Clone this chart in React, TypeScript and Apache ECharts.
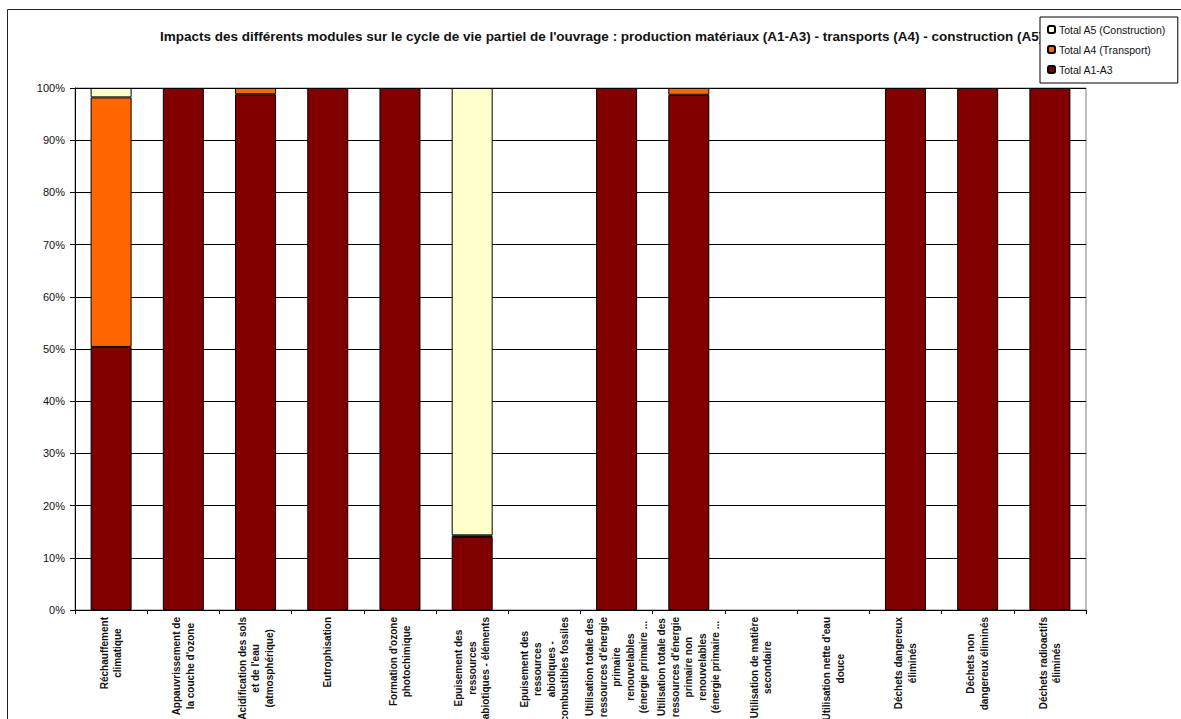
import React, { useEffect, useRef } from "react";
import * as echarts from "echarts";

const categories = [
  "Réchauffement\nclimatique",
  "Appauvrissement de\nla couche d'ozone",
  "Acidification des sols\net de l'eau\n(atmosphérique)",
  "Eutrophisation",
  "Formation d'ozone\nphotochimique",
  "Epuisement des\nressources\nabiotiques - éléments",
  "Epuisement des\nressources\nabiotiques -\ncombustibles fossiles",
  "Utilisation totale des\nressources d'énergie\nprimaire\nrenouvelables\n(énergie primaire ...",
  "Utilisation totale des\nressources d'énergie\nprimaire non\nrenouvelables\n(énergie primaire ...",
  "Utilisation de matière\nsecondaire",
  "Utilisation nette d'eau\ndouce",
  "Déchets dangereux\néliminés",
  "Déchets non\ndangereux éliminés",
  "Déchets radioactifs\néliminés",
];

const seriesNames = ["Total A1-A3", "Total A4 (Transport)", "Total A5 (Construction)"];
const legendOrder = ["Total A5 (Construction)", "Total A4 (Transport)", "Total A1-A3"];

const a1a3 = [50.4, 100, 98.8, 100, 100, 14.0, null, 100, 98.7, null, null, 100, 100, 100];
const a4 = [47.8, null, 1.2, null, null, 0.3, null, null, 1.3, null, null, null, null, null];
const a5 = [1.8, null, null, null, null, 85.7, null, null, null, null, null, null, null, null];

const colors = ["#800000", "#FF6600", "#FFFFCC"];

const yTicks = { min: 0, max: 100, interval: 10 };

const titleText =
  "Impacts des différents modules sur le cycle de vie partiel de l'ouvrage : production matériaux (A1-A3) - transports (A4) - construction (A5)";

const FONT = "'Liberation Sans', Arial, sans-serif";

export default function App() {
  const ref = useRef<HTMLDivElement>(null);

  useEffect(() => {
    if (!ref.current) return;
    const chart = echarts.init(ref.current, null, { renderer: "svg" });
    const dataSets = [a1a3, a4, a5];
    chart.setOption({
      animation: false,
      backgroundColor: "#ffffff",
      title: {
        text: titleText,
        left: 160,
        top: 29,
        padding: 0,
        textStyle: {
          fontFamily: FONT,
          fontSize: 13.5,
          fontWeight: "bold",
          color: "#111111",
        },
      },
      legend: {
        data: legendOrder,
        orient: "vertical",
        left: 1040,
        top: 17,
        width: 139,
        height: 66,
        padding: [7, 12, 8, 7],
        itemWidth: 7,
        itemHeight: 7,
        itemGap: 9,
        backgroundColor: "#ffffff",
        borderColor: "#000000",
        borderWidth: 1,
        z: 10,
        textStyle: {
          fontFamily: FONT,
          fontSize: 10.5,
          color: "#111111",
          padding: [0, 0, 0, -1],
        },
      },
      graphic: [
        {
          type: "rect",
          z: -1,
          shape: { x: 7.5, y: 9.5, width: 1300, height: 900 },
          style: { fill: "none", stroke: "#222222", lineWidth: 1 },
          silent: true,
        },
      ],
      grid: {
        left: 75,
        right: 95,
        top: 88,
        bottom: 109,
        show: true,
        borderColor: "#808080",
        borderWidth: 1,
        containLabel: false,
        outerBoundsMode: "none",
      },
      xAxis: {
        type: "category",
        data: categories,
        boundaryGap: true,
        axisLine: { show: true, lineStyle: { color: "#000000", width: 1 } },
        axisTick: { show: true, length: 4, lineStyle: { color: "#000000" } },
        axisLabel: {
          interval: 0,
          rotate: 90,
          margin: 7,
          fontFamily: FONT,
          fontSize: 10,
          fontWeight: "bold",
          color: "#111111",
          lineHeight: 13.5,
          formatter: (v: string) =>
            v
              .split("\n")
              .map((l) => `{a|${l}}`)
              .join("\n"),
          rich: {
            a: {
              align: "center",
              fontFamily: FONT,
              fontSize: 10,
              fontWeight: "bold",
              color: "#111111",
              lineHeight: 13.5,
            },
          },
        },
        splitLine: { show: false },
      },
      yAxis: {
        type: "value",
        min: yTicks.min,
        max: yTicks.max,
        interval: yTicks.interval,
        axisLine: { show: true, lineStyle: { color: "#000000", width: 1 } },
        axisTick: { show: true, length: 5, inside: false, lineStyle: { color: "#000000" } },
        axisLabel: {
          formatter: "{value}%",
          margin: 10,
          fontFamily: FONT,
          fontSize: 11,
          color: "#111111",
        },
        splitLine: { show: true, lineStyle: { color: "#000000", width: 1 } },
      },
      series: seriesNames.map((name, i) => ({
        name,
        type: "bar",
        stack: "total",
        barWidth: 41,
        data: dataSets[i],
        itemStyle: {
          color: colors[i],
          borderColor: "#000000",
          borderWidth: 1,
        },
      })),
    });
    return () => chart.dispose();
  }, []);

  return (
    <div
      ref={ref}
      style={{ position: "fixed", left: 0, top: 0, width: 1181, height: 719 }}
    />
  );
}
